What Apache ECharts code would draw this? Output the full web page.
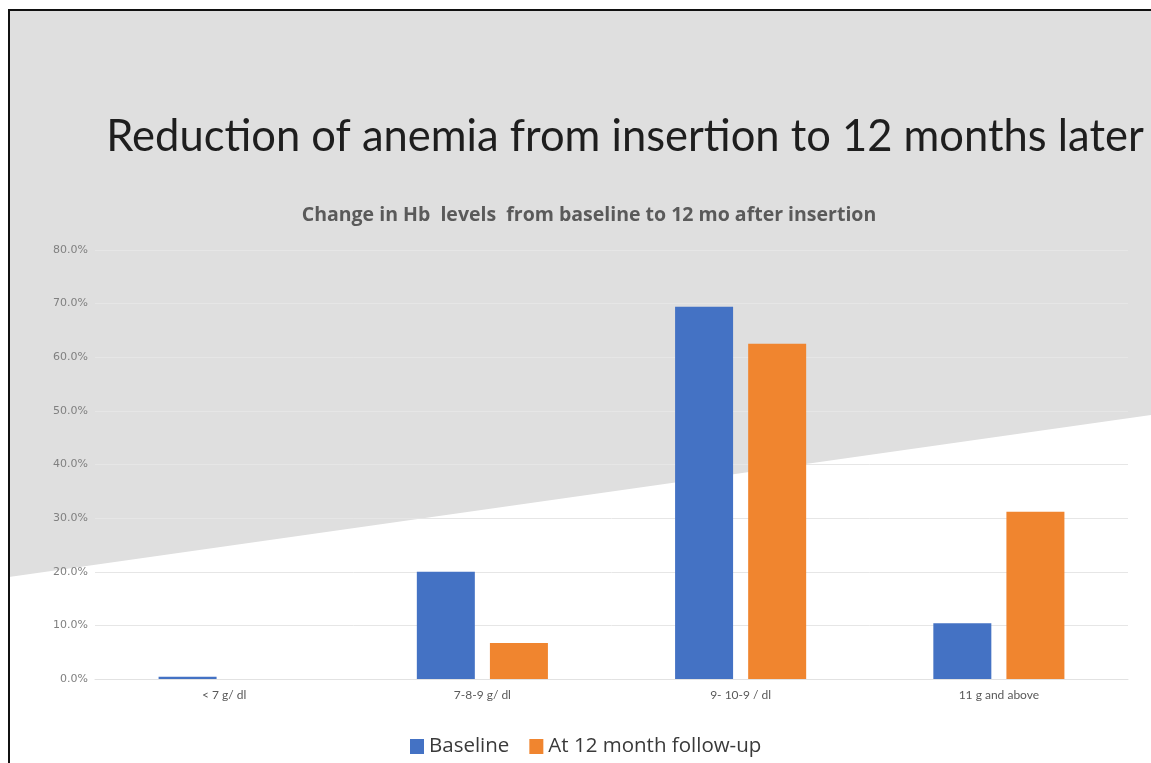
<!DOCTYPE html>
<html>
<head>
<meta charset="utf-8">
<script src="https://cdn.jsdelivr.net/npm/echarts@6/dist/echarts.min.js"></script>
<style>
  html, body { margin: 0; padding: 0; background: #fff; }
  #main { width: 1151px; height: 763px; }
</style>
</head>
<body>
<div id="main"></div>
<script>
// hb level bands
var categories = ['< 7 g/ dl', '7-8-9 g/ dl', '9- 10-9 / dl', '11 g and above']
// percent of patients
var baseline = [0.4, 20.0, 69.4, 10.4]
var followUp = [0, 6.7, 62.5, 31.2]
var yTicks = { min: 0, max: 80, step: 10 }

var myChart = echarts.init(document.getElementById('main'))
myChart.setOption({
    backgroundColor: '#fff',
    animation: false,
    graphic: [
        { // grey slide background, diagonal edge
            type: 'polygon',
            z: -10,
            silent: true,
            shape: { points: [[9, 11], [1151, 11], [1151, 415], [9, 577]] },
            style: { fill: '#dfdfdf' }
        },
        { // frame lines
            type: 'polyline',
            z: -9,
            silent: true,
            shape: { points: [[9, 763], [9, 10], [1151, 10]] },
            style: { stroke: '#111', lineWidth: 2, fill: null }
        }
    ],
    title: [
        {
            text: 'Reduction of anemia from insertion to 12 months later',
            left: 620,
            top: 110,
            textAlign: 'center',
            textStyle: { fontFamily: 'Lato', fontSize: 43.5, fontWeight: 'normal', color: '#1e1e1e' }
        },
        {
            text: 'Change in Hb  levels  from baseline to 12 mo after insertion',
            left: 584,
            top: 200,
            textAlign: 'center',
            textStyle: { fontFamily: 'Open Sans', fontSize: 19.5, fontWeight: 'bold', color: '#5a5a5a' }
        }
    ],
    legend: {
        left: 405,
        top: 731,
        icon: 'rect',
        itemWidth: 14,
        itemHeight: 15,
        itemGap: 20,
        itemTextGap: 5,
        textStyle: { fontFamily: 'Open Sans', fontSize: 20.5, color: '#3a3a3a' },
        data: ['Baseline', 'At 12 month follow-up']
    },
    grid: { left: 95, right: 23, top: 250, bottom: 84, containLabel: false },
    xAxis: {
        type: 'category',
        data: categories,
        axisTick: { show: false },
        axisLine: { lineStyle: { color: '#e2e2e2' } },
        axisLabel: { color: '#595959', fontFamily: 'Lato', fontSize: 12, margin: 10 }
    },
    yAxis: {
        type: 'value',
        min: yTicks.min,
        max: yTicks.max,
        interval: yTicks.step,
        axisLine: { show: false },
        axisTick: { show: false },
        splitLine: { lineStyle: { color: '#e6e6e6', width: 1 } },
        axisLabel: {
            color: '#808080',
            fontFamily: 'DejaVu Sans',
            fontSize: 11,
            margin: 7,
            formatter: function (v) { return v.toFixed(1) + '%' }
        }
    },
    series: [
        {
            name: 'Baseline',
            type: 'bar',
            data: baseline,
            barWidth: 58,
            barGap: '26%',
            itemStyle: { color: '#4472c4' }
        },
        {
            name: 'At 12 month follow-up',
            type: 'bar',
            data: followUp,
            barWidth: 58,
            barGap: '26%',
            itemStyle: { color: '#f0852f' }
        }
    ]
})
</script>
</body>
</html>
